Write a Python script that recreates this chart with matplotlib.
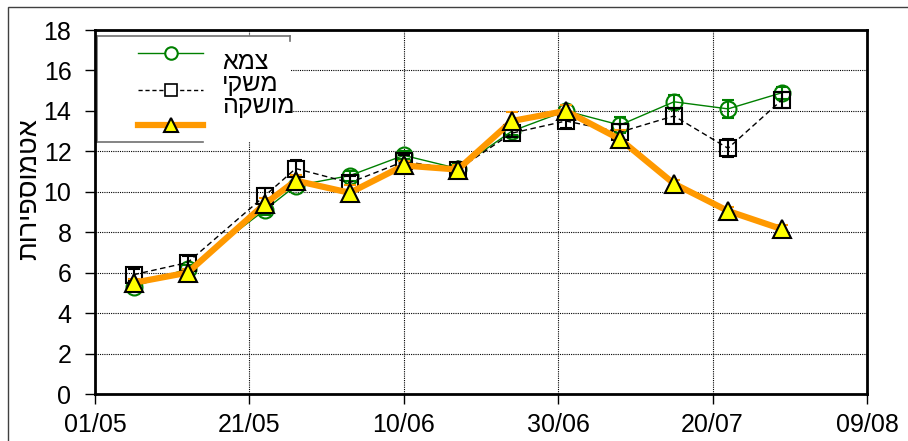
import numpy as np
import pandas as pd
import matplotlib
matplotlib.use("Agg")
import matplotlib.pyplot as plt
import matplotlib.dates as mdates
from matplotlib.lines import Line2D
from matplotlib.patches import Rectangle

plt.rcParams['font.family'] = ['Liberation Sans', 'DejaVu Sans']

# sampling dates
dates = pd.to_datetime(['2008-05-06', '2008-05-13', '2008-05-23', '2008-05-27',
                        '2008-06-03', '2008-06-10', '2008-06-17', '2008-06-24',
                        '2008-07-01', '2008-07-08', '2008-07-15', '2008-07-22',
                        '2008-07-29'])

# series (atmospheres)
thirsty = [5.3, 6.2, 9.1, 10.3, 10.8, 11.8, 11.15, 13.0, 14.0, 13.3, 14.45, 14.1, 14.9]
thirsty_err = [0.2, 0.2, 0.25, 0.2, 0.25, 0.2, 0.2, 0.2, 0.3, 0.4, 0.35, 0.45, 0.3]
commercial = [5.9, 6.5, 9.8, 11.15, 10.45, 11.5, 11.1, 12.9, 13.5, 12.95, 13.75, 12.15, 14.55]
commercial_err = [0.3, 0.3, 0.4, 0.4, 0.35, 0.3, 0.2, 0.2, 0.35, 0.4, 0.4, 0.45, 0.4]
irrigated = [5.5, 6.0, 9.4, 10.55, 9.95, 11.3, 11.1, 13.5, 14.0, 12.6, 10.4, 9.05, 8.15]
irrigated_err = [0.2, 0.2, 0.3, 0.3, 0.4, 0.2, 0.2, 0.45, 0.3, 0.45, 0.2, 0.2, 0.2]

labels = ['צמא', 'משקי', 'מושקה']
ylabel = 'אטמוספירות'
xticks = pd.date_range('2008-05-01', '2008-08-09', freq='20D')


def rtl(s):
    # matplotlib has no bidi support, flip to visual order
    return s[::-1]


fig = plt.figure(figsize=(9.08, 4.41), dpi=100)
ax = fig.add_axes([95 / 908, 1 - 394 / 441, 772 / 908, 364 / 441])


# pixel -> axes fraction helpers
def ax_x(px):
    return (px - 95) / 772


def ax_y(py):
    return (394 - py) / 364


green = '#008000'
orange = '#FF9900'
yellow = '#FFFF00'

ax.errorbar(dates, thirsty, yerr=thirsty_err, color=green, lw=1, marker='o', ms=11.5,
            mfc='none', mec=green, mew=1.5, ecolor=green, elinewidth=1.5, capsize=4,
            capthick=1.5, zorder=3)
ax.errorbar(dates, commercial, yerr=commercial_err, color='black', lw=1, ls=(0, (4, 2.5)),
            marker='s', ms=12, mfc='none', mec='black', mew=1.5, ecolor='black',
            elinewidth=1.5, capsize=4, capthick=1.5, zorder=4)
ax.errorbar(dates, irrigated, yerr=irrigated_err, color=orange, lw=4.5, marker='^', ms=13.5,
            mfc=yellow, mec='black', mew=1.5, ecolor=orange, elinewidth=2, capsize=4,
            capthick=2, zorder=5)

ax.set_xlim(pd.Timestamp('2008-05-01'), pd.Timestamp('2008-08-09'))
ax.set_ylim(0, 18)
ax.set_yticks(np.arange(0, 19, 2))
ax.set_xticks(xticks)
ax.xaxis.set_major_formatter(mdates.DateFormatter('%d/%m'))

ax.set_axisbelow(True)
ax.grid(True, color='black', ls=(0, (1, 1)), lw=0.8)
for sp in ax.spines.values():
    sp.set_linewidth(2)
ax.tick_params(axis='both', labelsize=18, length=7, width=1, direction='out')
ax.tick_params(axis='y', pad=10)
ax.tick_params(axis='x', pad=7)

ax.set_ylabel(rtl(ylabel), fontsize=19.5, va='center')
ax.yaxis.set_label_coords(ax_x(29), ax_y(189))

# legend box (white, gray edge)
tr = ax.transAxes
ax.add_patch(Rectangle((ax_x(97), ax_y(142)), ax_x(290) - ax_x(97), ax_y(36) - ax_y(142),
                       transform=tr, facecolor='white', edgecolor='none', zorder=2))
box_kw = dict(transform=tr, color='#707070', lw=1.2, zorder=2.1)
ax.add_line(Line2D([ax_x(97), ax_x(290)], [ax_y(36), ax_y(36)], **box_kw))
ax.add_line(Line2D([ax_x(97), ax_x(97)], [ax_y(36), ax_y(142)], **box_kw))
ax.add_line(Line2D([ax_x(97), ax_x(203)], [ax_y(142), ax_y(142)], **box_kw))
ax.add_line(Line2D([ax_x(290), ax_x(290)], [ax_y(36), ax_y(41)], **box_kw))

# legend entries: sample line + marker, text a bit off like the original
handle_styles = [
    dict(color=green, lw=1, marker='o', ms=9, mfc='white', mec=green, mew=1.5),
    dict(color='black', lw=1, ls=(0, (3, 2)), marker='s', ms=8, mfc='white', mec='black', mew=1.2),
    dict(color=orange, lw=4.5, marker='^', ms=10, mfc=yellow, mec='black', mew=1.5),
]
handle_rows = [53, 90, 125]
text_rows = [69, 91, 113]
for style, hy, lab, ty in zip(handle_styles, handle_rows, labels, text_rows):
    ax.add_line(Line2D([ax_x(138), ax_x(203)], [ax_y(hy)] * 2, transform=tr, zorder=6,
                       **{k: v for k, v in style.items() if k not in ('marker', 'ms', 'mfc', 'mec', 'mew')}))
    ax.add_line(Line2D([ax_x(170.5)], [ax_y(hy)], transform=tr, zorder=7, ls='none',
                       **{k: v for k, v in style.items() if k not in ('lw', 'ls', 'color')}))
    ax.text(ax_x(222), ax_y(ty), rtl(lab), transform=tr, fontsize=18, ha='left',
            va='baseline', zorder=7)

# outer chart frame
fig.add_artist(Rectangle((8 / 908, -0.2), 1.2, 1.2 - 7 / 441, transform=fig.transFigure,
                         facecolor='none', edgecolor='#404040', lw=1))

fig.savefig('out.png', dpi=100)
